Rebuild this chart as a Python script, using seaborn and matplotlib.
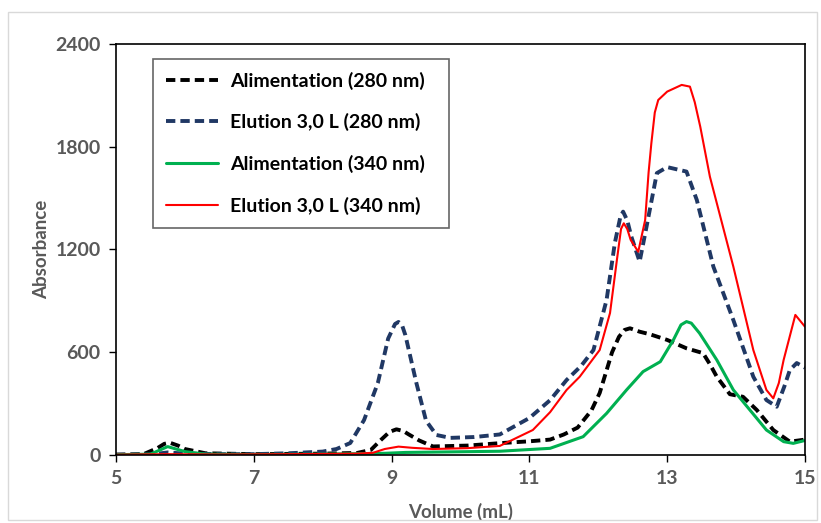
import matplotlib.pyplot as plt
import numpy as np
import pandas as pd
import seaborn as sns

# data
alim280_x = [5.0, 5.4, 5.6, 5.7, 5.78, 5.9, 6.0, 6.3, 7.0, 8.0, 8.5, 8.7, 8.85, 8.97, 9.07,
             9.17, 9.25, 9.4, 9.6, 10.1, 10.6, 11.0, 11.3, 11.5, 11.7, 11.9, 12.02, 12.2,
             12.3, 12.38, 12.46, 12.6, 12.75, 13.0, 13.28, 13.52, 13.62, 13.72, 13.91,
             14.1, 14.3, 14.54, 14.78, 15.0]
alim280_y = [2, 5, 40, 65, 72, 55, 35, 10, 5, 8, 12, 30, 90, 135, 150,
             140, 120, 85, 50, 55, 70, 80, 90, 120, 160, 260, 362, 600,
             690, 730, 740, 720, 705, 672, 623, 595, 530, 457, 355,
             340, 263, 146, 78, 90]

elu280_x = [5.0, 5.5, 5.75, 6.0, 6.5, 7.0, 7.5, 8.0, 8.2, 8.4, 8.6, 8.8, 8.95, 9.05, 9.1,
            9.15, 9.2, 9.36, 9.5, 9.65, 9.85, 10.2, 10.57, 11.0, 11.3, 11.54, 11.75,
            11.93, 12.12, 12.24, 12.32, 12.36, 12.42, 12.48, 12.6, 12.7, 12.85, 13.0,
            13.28, 13.43, 13.67, 13.96, 14.25, 14.44, 14.59, 14.7, 14.78, 14.88, 15.0]
elu280_y = [2, 3, 15, 8, 5, 5, 10, 20, 35, 70, 204, 420, 680, 765, 777,
            760, 700, 420, 200, 117, 100, 105, 120, 216, 320, 438, 520,
            613, 905, 1238, 1390, 1421, 1370, 1275, 1129, 1333, 1646, 1681,
            1655, 1489, 1100, 788, 457, 321, 282, 400, 496, 537, 510]

alim340_x = [5.0, 5.5, 5.75, 6.0, 6.3, 7.0, 8.0, 8.9, 9.2, 10.0, 10.57, 11.3, 11.78,
             12.12, 12.41, 12.65, 12.9, 13.09, 13.2, 13.28, 13.35, 13.47, 13.72, 13.96,
             14.2, 14.44, 14.69, 14.83, 15.0]
alim340_y = [2, 5, 49, 20, 5, 3, 5, 10, 15, 19, 22, 39, 107,
             243, 380, 487, 545, 672, 760, 779, 770, 711, 555, 380,
             263, 146, 78, 68, 85]

elu340_x = [5.0, 5.75, 6.5, 7.5, 8.5, 8.73, 8.9, 9.1, 9.3, 9.6, 10.1, 10.57, 11.05,
            11.3, 11.54, 11.73, 12.02, 12.17, 12.27, 12.33, 12.37, 12.42, 12.47, 12.58,
            12.68, 12.73, 12.77, 12.82, 12.87, 13.0, 13.21, 13.33, 13.4, 13.48, 13.62,
            13.96, 14.25, 14.44, 14.54, 14.62, 14.69, 14.86, 15.0]
elu340_y = [2, 5, 3, 5, 8, 13, 35, 49, 42, 35, 40, 53, 146,
            250, 380, 457, 613, 829, 1139, 1320, 1353, 1320, 1256, 1187,
            1372, 1650, 1820, 2000, 2073, 2122, 2161, 2151, 2060, 1917, 1625,
            1100, 613, 380, 331, 420, 555, 818, 749]

x_ticks = [5, 7, 9, 11, 13, 15]
y_ticks = [0, 600, 1200, 1800, 2400]

sns.set_style("ticks")
plt.rcParams["font.family"] = ["Lato", "DejaVu Sans"]
gray = "#595959"

fig = plt.figure(figsize=(8.21, 5.23), dpi=100)
ax = fig.add_axes([0.1413, 0.130, 0.8392, 0.7859])

# light border around the chart area
fig.patches.append(plt.Rectangle((0.010, 0.005), 0.985, 0.972, transform=fig.transFigure,
                                 fill=False, edgecolor="#d9d9d9", linewidth=1))

series = [
    (alim280_x, alim280_y, "Alimentation (280 nm)", "black", 2.8, (2.4, 1.3)),
    (elu280_x, elu280_y, "Elution 3,0 L (280 nm)", "#203864", 2.8, (2.4, 1.3)),
    (alim340_x, alim340_y, "Alimentation (340 nm)", "#00B050", 2.2, None),
    (elu340_x, elu340_y, "Elution 3,0 L (340 nm)", "#FF0000", 1.5, None),
]
for xs, ys, name, col, lw, dash in series:
    df = pd.DataFrame({"Volume": xs, "Abs": ys})
    line = sns.lineplot(data=df, x="Volume", y="Abs", ax=ax, color=col, linewidth=lw,
                        label=name, sort=False)
    if dash is not None:
        line.lines[-1].set_dashes(dash)
    line.lines[-1].set_solid_joinstyle("round")

ax.set_xlim(5, 15)
ax.set_ylim(0, 2400)
ax.set_xticks(x_ticks)
ax.set_yticks(y_ticks)
ax.tick_params(direction="out", length=5, width=1, color="black", labelcolor=gray,
               labelsize=14, pad=6)
for lab in ax.get_xticklabels() + ax.get_yticklabels():
    lab.set_fontweight("bold")
for sp in ax.spines.values():
    sp.set_color("black")
    sp.set_linewidth(1.2)

ax.set_xlabel("Volume (mL)", fontsize=13.5, fontweight="bold", color=gray, labelpad=11)
ax.set_ylabel("Absorbance", fontsize=13.5, fontweight="bold", color=gray, labelpad=4)

leg = ax.legend(loc="upper left", bbox_to_anchor=(0.054, 0.5, 0.43, 0.464),
                mode="expand", borderaxespad=0,
                frameon=True, fancybox=False, labelspacing=1.22,
                handlelength=2.7, handletextpad=0.6, borderpad=0.65,
                prop={"weight": "bold", "size": 14})
leg.get_frame().set_edgecolor("#404040")
leg.get_frame().set_linewidth(1.2)
for t in leg.get_texts():
    t.set_color("black")

plt.savefig("out.png", dpi=100)
plt.close()
